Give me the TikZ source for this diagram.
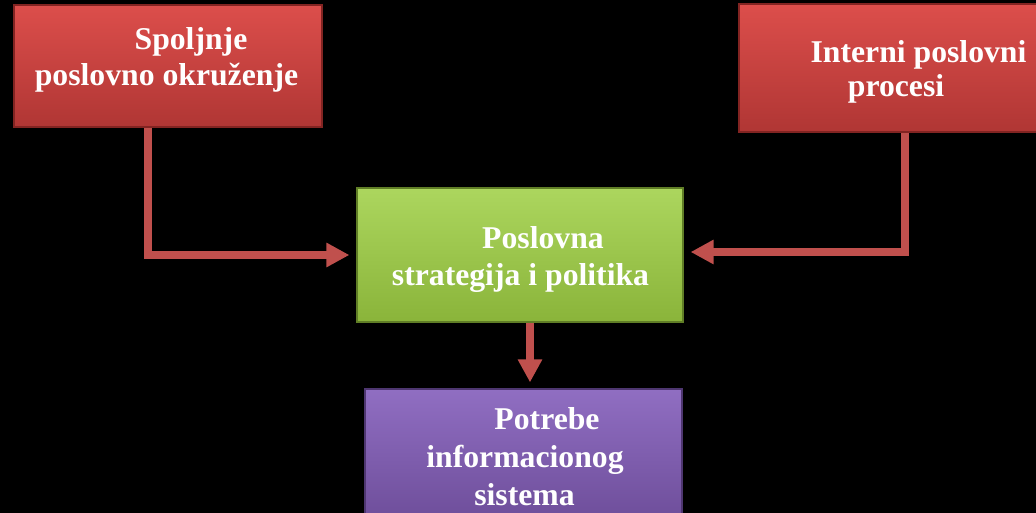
\documentclass[tikz,border=0pt]{standalone}
\usepackage{fontspec}
\setmainfont{Liberation Serif}
\usetikzlibrary{arrows.meta,calc}
\definecolor{arrred}{RGB}{192,80,77}
\definecolor{redtop}{RGB}{220,78,75}
\definecolor{redbot}{RGB}{176,54,52}
\definecolor{redline}{RGB}{130,36,34}
\definecolor{grntop}{RGB}{172,214,94}
\definecolor{grnbot}{RGB}{138,180,58}
\definecolor{grnline}{RGB}{96,126,38}
\definecolor{purtop}{RGB}{144,110,194}
\definecolor{purbot}{RGB}{108,76,152}
\definecolor{purline}{RGB}{78,54,112}
\tikzset{
  box/.style={rectangle, inner sep=0pt, line width=1.2pt},
  redbox/.style={box, draw=redline, top color=redtop, bottom color=redbot},
  grnbox/.style={box, draw=grnline, top color=grntop, bottom color=grnbot},
  purbox/.style={box, draw=purline, top color=purtop, bottom color=purbot},
  lbl/.style={text=white, inner sep=0pt, anchor=base, font=\fontsize{31.7}{38}\selectfont\bfseries},
  conn/.style={draw=arrred, line width=8pt, -{Triangle[length=23pt,width=23pt]}}
}
\begin{document}
\begin{tikzpicture}[x=1pt,y=-1pt]
\fill[black] (0,0) rectangle (1036,513);
\useasboundingbox (0,0) rectangle (1036,513);
\clip (0,0) rectangle (1036,513);

\node[redbox, minimum width=308pt, minimum height=122pt] (b1) at (168,66) {};
\node[redbox, minimum width=306pt, minimum height=128pt] (b2) at (892,68) {};
\node[grnbox, minimum width=326pt, minimum height=134pt] (g) at (520,255) {};
\node[purbox, minimum width=317pt, minimum height=139pt] (p) at (523.5,458.5) {};

\node[lbl] (t1a) at (191,50) {Spoljnje};
\node[lbl] (t1b) at (166.5,86) {poslovno okruženje};

\node[lbl] (t2a) at (918.5,63) {Interni poslovni};
\node[lbl] (t2b) at (896,97) {procesi};

\node[lbl] (t3a) at (543,248) {Poslovna};
\node[lbl] (t3b) at (520.5,285) {strategija i politika};

\node[lbl] (t4a) at (547,429) {Potrebe};
\node[lbl] (t4b) at (525,467) {informacionog};
\node[lbl] (t4c) at (524.5,505) {sistema};

\draw[conn, shorten >=7pt] ([xshift=-20pt]b1.south) |- (g.west);
\draw[conn, shorten >=7pt] ([xshift=13pt]b2.south) |- ([yshift=3pt]g.east);
\draw[conn, shorten >=6pt] ([xshift=10pt]g.south) -- ([xshift=10pt]g.south |- p.north);
\end{tikzpicture}
\end{document}
